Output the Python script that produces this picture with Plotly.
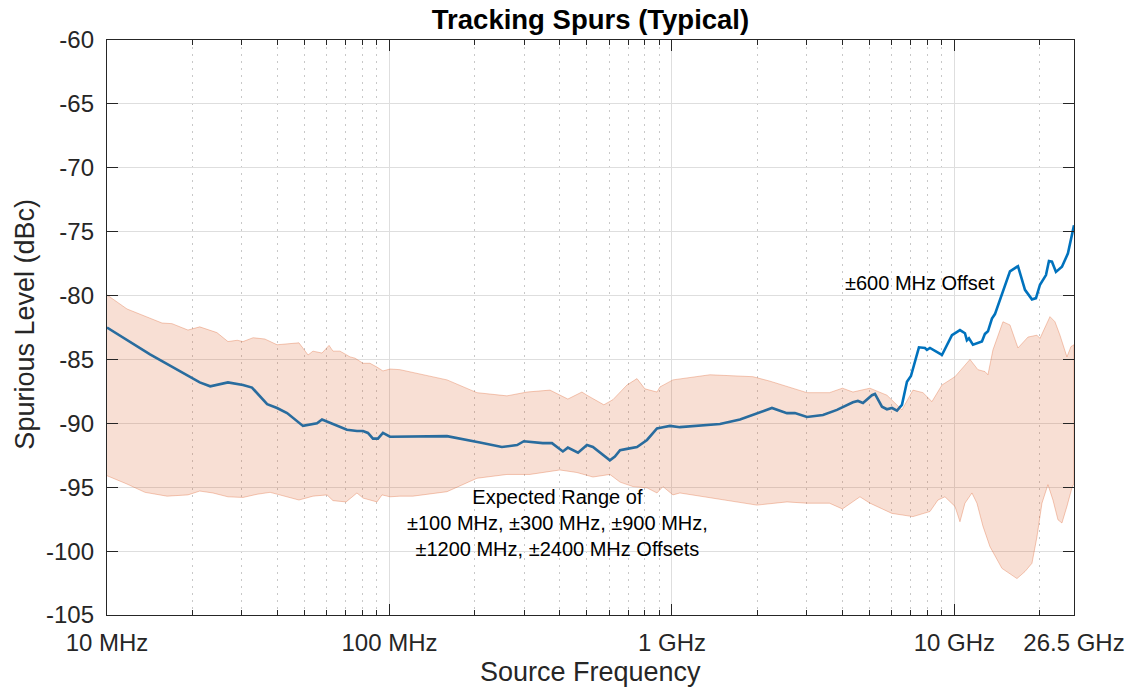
import math
import plotly.graph_objects as go

# ---------------- data (frequency in MHz, level in dBc) ----------------
line_freq_mhz = [10, 14.2, 21.3, 23.2, 26.8, 30.3, 32.6, 36.9, 40.0, 43.4, 49.4, 55.4, 57.7, 63.1,
                 70.7, 76.7, 80.6, 83.9, 87.4, 91.0, 94.8, 100.4, 108.9, 121, 159.8, 209, 250,
                 283, 299, 349, 376, 411, 428, 465, 500, 525, 565, 603, 628, 655, 693, 752, 816,
                 885, 929, 984, 1067, 1479, 1741, 2259, 2553, 2725, 3006, 3424, 3838, 4372, 4553,
                 4745, 5105, 5231, 5539, 5769, 6009, 6259, 6519, 6790, 7015, 7487, 7864, 7993,
                 8191, 9033, 9799, 10460, 10894, 11070, 11255, 11628, 12513, 12823, 13141, 13575,
                 13912, 14727, 15724, 16786, 17771, 18812, 19437, 20082, 21087, 21608, 22142,
                 22877, 24021, 25223, 26500]
line_db = [-82.5, -84.6, -86.8, -87.1, -86.8, -87.0, -87.2, -88.5, -88.8, -89.2, -90.2, -90.0, -89.7, -90.05,
           -90.5, -90.6, -90.6, -90.75, -91.2, -91.2, -90.75, -91.05, -91.05, -91.0, -91.0, -91.5, -91.85,
           -91.7, -91.4, -91.55, -91.55, -92.2, -91.9, -92.3, -91.7, -91.85, -92.4, -92.9, -92.6, -92.1, -92.0, -91.85, -91.3,
           -90.4, -90.3, -90.2, -90.3, -90.05, -89.7, -88.8, -89.2, -89.2, -89.5, -89.35, -88.95, -88.35, -88.25,
           -88.4, -87.8, -87.7, -88.7, -88.9, -88.8, -89.0, -88.55, -86.75, -86.3, -84.05, -84.1, -84.25,
           -84.1, -84.65, -83.1, -82.7, -82.95, -83.5, -83.35, -83.85, -83.6, -83.0, -82.8, -81.8,
           -81.45, -79.95, -78.1, -77.7, -79.55, -80.3, -80.2, -79.15, -78.4, -77.3, -77.35,
           -78.15, -77.75, -76.7, -74.5]

upper_freq_mhz = [10, 11.77, 15.66, 16.99, 19.35, 21.3, 24.5, 26.8, 28.9, 30.3, 32.9, 36.2, 40.0, 43.4,
                  47.8, 51.5, 53.6, 57.7, 61.1, 63.1, 66.8, 72.5, 75.5, 80.6, 85.3, 90.3, 94.8, 100.4,
                  108.9, 159.8, 204, 260.5, 307, 370, 428, 480, 500, 574, 618, 693, 752, 802, 885, 907,
                  1008, 1363, 1935, 2223, 3006, 3610, 4013, 4372, 5022, 5769, 6519, 7131, 7737, 8325,
                  9033, 10042, 11349, 12108, 12823, 13141, 13686, 14849, 15724, 16786, 18210, 19588,
                  20082, 21786, 22692, 23635, 25015, 25847, 26500]
upper_db = [-79.95, -81.05, -82.15, -82.2, -82.7, -82.45, -82.9, -83.6, -83.5, -83.6, -83.3, -83.4, -83.85, -83.8,
            -83.7, -84.65, -84.35, -84.5, -83.9, -84.35, -84.35, -84.8, -84.9, -85.3, -85.3, -85.6, -85.9, -85.75,
            -85.8, -86.6, -87.6, -87.85, -87.55, -87.4, -88.1, -87.55, -87.8, -88.55, -88.15, -87.0, -86.5, -87.3, -87.55, -87.15,
            -86.6, -86.2, -86.35, -86.7, -87.6, -87.6, -87.25, -87.55, -87.25, -87.8, -88.95, -87.4, -87.6, -88.3,
            -87.0, -86.35, -85.0, -85.8, -85.95, -86.2, -84.25, -82.05, -82.3, -84.1, -83.25, -83.1,
            -83.35, -81.65, -82.05, -83.1, -84.8, -84.0, -83.85]

lower_freq_mhz = [10, 11.77, 13.63, 16.31, 19.35, 21.3, 23.7, 26.8, 30.3, 34.0, 37.8, 42.7, 47.8, 53.6,
                  60.1, 63.1, 70.2, 76.7, 80.6, 90.3, 94.1, 100.4, 108.9, 121, 159.8, 204, 260.5, 314,
                  401, 461, 525, 603, 655, 728, 816, 885, 929, 1008, 1067, 1999, 2553, 3006, 3610, 4013,
                  4629, 5022, 6009, 7131, 8191, 8741, 9256, 10042, 10460, 10894, 11533, 12013, 12615,
                  13356, 13686, 14727, 16647, 17771, 18812, 19588, 20408, 21429, 22321, 23252, 24021,
                  25015, 26057, 26500]
lower_db = [-94.1, -94.75, -95.4, -95.7, -95.6, -95.3, -95.45, -95.75, -95.8, -95.55, -95.4, -95.7, -96.0, -95.7,
            -95.6, -96.05, -96.15, -95.45, -95.85, -96.15, -95.6, -95.75, -95.7, -95.7, -95.35, -94.3, -94.0, -94.0,
            -93.65, -93.85, -94.2, -94.0, -94.6, -94.95, -95.05, -95.45, -94.95, -95.6, -95.45, -96.4, -96.15, -96.25, -96.25, -96.7,
            -95.75, -96.25, -97.05, -97.3, -96.9, -96.0, -95.75, -96.5, -97.7, -96.25, -95.45, -96.25, -98.05,
            -99.65, -100.15, -101.35, -102.15, -101.6, -100.95, -98.9, -96.25, -94.8, -96.0, -97.55, -97.8,
            -96.5, -95.05, -94.7]

x_tick_vals = [10, 100, 1000, 10000, 26500]
x_tick_text = ["10 MHz", "100 MHz", "1 GHz", "10 GHz", "26.5 GHz"]
x_minor_vals = [20, 30, 40, 50, 60, 70, 80, 90,
                200, 300, 400, 500, 600, 700, 800, 900,
                2000, 3000, 4000, 5000, 6000, 7000, 8000, 9000,
                20000]
y_tick_vals = [-105, -100, -95, -90, -85, -80, -75, -70, -65, -60]
y_tick_text = ["-105", "-100", "-95", "-90", "-85", "-80", "-75", "-70", "-65", "-60"]

title_text = "Tracking Spurs (Typical)"
x_label = "Source Frequency"
y_label = "Spurious Level (dBc)"
offset_label = "±600 MHz Offset"
band_label = "Expected Range of<br>±100 MHz, ±300 MHz, ±900 MHz,<br>±1200 MHz, ±2400 MHz Offsets"

assert len(line_freq_mhz) == len(line_db)
assert len(upper_freq_mhz) == len(upper_db)
assert len(lower_freq_mhz) == len(lower_db)

# ---------------- styling ----------------
FONT = "Liberation Sans, Arial, Helvetica, sans-serif"
AX = "#262626"
W, H = 1135, 692
L, R, T, B = 107, 61, 40, 77
PW, PH = W - L - R, H - T - B

fig = go.Figure()
fig.add_trace(go.Scatter(x=line_freq_mhz, y=line_db, mode="lines",
                         line=dict(color="#0072BD", width=2.6), hoverinfo="skip",
                         showlegend=False))
band_x = upper_freq_mhz + lower_freq_mhz[::-1]
band_y = upper_db + lower_db[::-1]
fig.add_trace(go.Scatter(x=band_x, y=band_y, mode="lines", fill="toself",
                         fillcolor="rgba(217,83,25,0.19)",
                         line=dict(color="rgba(217,83,25,0.3)", width=1),
                         hoverinfo="skip", showlegend=False))

axis_common = dict(
    showline=True, linecolor=AX, linewidth=1.3, mirror="ticks",
    ticks="inside", ticklen=11, tickwidth=1.3, tickcolor=AX,
    showgrid=True, gridcolor="#dedede", gridwidth=1, zeroline=False,
    tickfont=dict(family=FONT, size=24, color=AX),
)

fig.update_layout(
    width=W, height=H,
    margin=dict(l=L, r=R, t=T, b=B, autoexpand=False),
    paper_bgcolor="white", plot_bgcolor="white",
    font=dict(family=FONT, color=AX),
    title=dict(text="<b>" + title_text + "</b>", x=0.5, xref="paper", xanchor="center",
               y=1 - 19.5 / H, yref="container", yanchor="middle",
               font=dict(family=FONT, size=27.5, color="black")),
    xaxis=dict(type="log", range=[1, math.log10(26500)],
               tickmode="array", tickvals=x_tick_vals, ticktext=x_tick_text,
               ticklabelstandoff=6,
               minor=dict(tickmode="array", tickvals=x_minor_vals, ticks="inside",
                          ticklen=5, tickwidth=1, tickcolor=AX, showgrid=True,
                          gridcolor="#c8c8c8", gridwidth=1, griddash="2px,5px"),
               **axis_common),
    yaxis=dict(range=[-105, -60], tickmode="array", tickvals=y_tick_vals, ticktext=y_tick_text,
               ticklabelstandoff=7, **axis_common),
    annotations=[
        dict(text=x_label, xref="paper", yref="paper", x=0.5, y=(T + PH - 672) / PH,
             xanchor="center", yanchor="middle", showarrow=False,
             font=dict(family=FONT, size=27, color=AX)),
        dict(text=y_label, xref="paper", yref="paper", x=(25 - L) / PW, y=0.505,
             xanchor="center", yanchor="middle", textangle=-90, showarrow=False,
             font=dict(family=FONT, size=27, color=AX)),
        dict(text=offset_label, xref="x", yref="y", x=math.log10(7580), y=-79.0,
             showarrow=False, xanchor="center", yanchor="middle",
             font=dict(family=FONT, size=20, color="black")),
        dict(text=band_label, xref="x", yref="y", x=math.log10(392), y=-97.8,
             showarrow=False, xanchor="center", yanchor="middle", align="center",
             font=dict(family=FONT, size=20, color="black")),
    ],
)

fig.write_html(
    "out.html",
    config={"displayModeBar": False},
    post_script="document.body.style.margin='0px';document.body.style.overflow='hidden';",
)
